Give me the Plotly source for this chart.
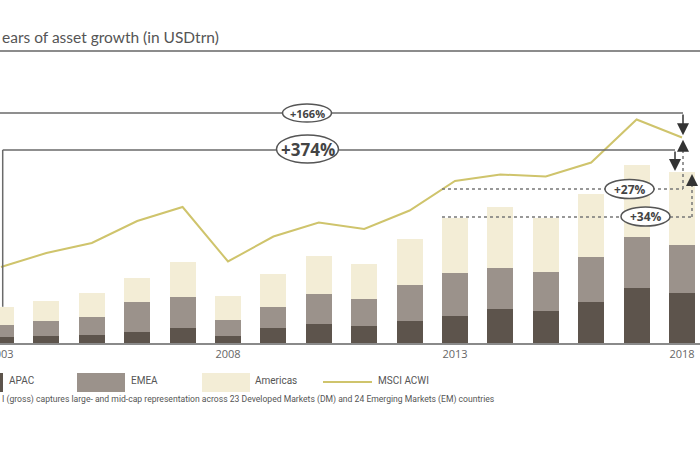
import plotly.graph_objects as go

# ---------------- data ----------------
years = list(range(2003, 2019))
apac = [2.5, 3.1, 3.6, 4.8, 6.7, 3.1, 6.7, 8.4, 7.6, 9.8, 12.1, 15.0, 14.4, 18.4, 24.4, 22.1]
emea = [5.5, 6.7, 8.1, 13.6, 13.6, 7.1, 9.5, 13.2, 11.9, 16.0, 19.0, 18.5, 17.3, 19.7, 22.5, 21.3]
americas = [8.1, 9.0, 10.4, 10.7, 15.7, 10.5, 14.5, 16.9, 15.8, 20.3, 24.4, 27.1, 24.0, 28.1, 32.4, 32.7]
msci = [760, 900, 1000, 1220, 1360, 815, 1065, 1205, 1140, 1325, 1620, 1685, 1665, 1805, 2235, 2055]
tick_years = [2003, 2008, 2013, 2018]
tick_labels = ["2003", "2008", "2013", "2018"]
growth_labels = {"total": "+374%", "msci": "+166%", "msci5": "+27%", "total5": "+34%"}
series_names = ["APAC", "EMEA", "Americas", "MSCI ACWI"]
title_text = "ears of asset growth (in USDtrn)"
footnote_text = ("I (gross) captures large- and mid-cap representation across 23 Developed "
                 "Markets (DM) and 24 Emerging Markets (EM) countries")

# ---------------- styling / geometry ----------------
W, H = 700, 450
TOP, BASE = 90, 343            # plot area top / baseline pixel rows
PLOT_H = BASE - TOP
PX_PER_UNIT = 2.25
Y_MAX = PLOT_H / PX_PER_UNIT
MSCI_K = 10 * PX_PER_UNIT      # msci points per y unit
X0, X1 = 2003 - 1 / 45.4, 2018 + 18 / 45.4
BAR_W = 0.573

C_APAC = "#5d544c"
C_EMEA = "#9b928b"
C_AMER = "#f3edd6"
C_MSCI = "#cfc46c"
C_LINE = "#6a6a6a"
C_TXT = "#555555"
FONT = "Roboto, Liberation Sans, Arial, sans-serif"


def ppx(p):
    return p / W


def ppy(p):
    return (BASE - p) / PLOT_H


def dx(p):
    return X0 + p / W * (X1 - X0)


def dy(p):
    return (BASE - p) / PX_PER_UNIT


totals = [a + e + m for a, e, m in zip(apac, emea, americas)]

fig = go.Figure()
for name, vals, col in [(series_names[0], apac, C_APAC), (series_names[1], emea, C_EMEA),
                        (series_names[2], americas, C_AMER)]:
    fig.add_trace(go.Bar(x=years, y=vals, name=name, marker_color=col,
                         marker_line_width=0, width=BAR_W, showlegend=False))
fig.add_trace(go.Scatter(x=years, y=msci, name=series_names[3], mode="lines",
                         line=dict(color=C_MSCI, width=2), yaxis="y2", showlegend=False))

shapes = []
annos = []


def arrow(x, y_tip, y_from):
    return dict(x=x, y=y_tip, ax=x, ay=y_from, xref="x", yref="y", axref="x", ayref="y",
                text="", showarrow=True, arrowhead=2, arrowsize=1.6, arrowwidth=1.5,
                arrowcolor="#333333")


# title + underline
annos.append(dict(text=title_text, x=ppx(0), y=ppy(37), xref="paper", yref="paper",
                  xanchor="left", yanchor="middle", showarrow=False,
                  font=dict(family="Lato, sans-serif", size=15.5, color=C_TXT)))
shapes.append(dict(type="line", xref="paper", yref="paper", x0=0, x1=1, y0=ppy(51), y1=ppy(51),
                   line=dict(color="#8c8c8c", width=2)))

# +166% bracket (MSCI 2003 -> 2018)
y166 = dy(113)
shapes.append(dict(type="line", xref="x", yref="y", x0=X0, x1=dx(683), y0=y166, y1=y166,
                   line=dict(color=C_LINE, width=1.5)))
annos.append(arrow(dx(683), msci[-1] / MSCI_K + 1.0, y166))
# +374% bracket (total 2003 -> 2018)
y374 = dy(150)
xl = dx(2.7)
shapes.append(dict(type="line", xref="x", yref="y", x0=xl, x1=xl, y0=totals[0], y1=y374,
                   line=dict(color=C_LINE, width=1.5)))
shapes.append(dict(type="line", xref="x", yref="y", x0=xl, x1=dx(675), y0=y374, y1=y374,
                   line=dict(color=C_LINE, width=1.5)))
annos.append(arrow(dx(675), totals[-1] + 0.3, y374))

# +27% dotted (MSCI 2013 -> 2018)
y27 = dy(189)
xs = 2013 - BAR_W / 2
tip27 = msci[-1] / MSCI_K - 1.0
shapes.append(dict(type="line", xref="x", yref="y", x0=xs, x1=dx(683), y0=y27, y1=y27,
                   line=dict(color="#777777", width=1.5, dash="dot")))
shapes.append(dict(type="line", xref="x", yref="y", x0=dx(683), x1=dx(683), y0=y27,
                   y1=tip27 - 4, line=dict(color="#777777", width=1.5, dash="dot")))
annos.append(arrow(dx(683), tip27, tip27 - 5))
# +34% dotted (total 2013 -> 2018)
y34 = totals[10] + 0.5
tip34 = totals[-1] - 1.0
shapes.append(dict(type="line", xref="x", yref="y", x0=xs, x1=dx(692), y0=y34, y1=y34,
                   line=dict(color="#777777", width=1.5, dash="dot")))
shapes.append(dict(type="line", xref="x", yref="y", x0=dx(692), x1=dx(692), y0=y34,
                   y1=tip34 - 4, line=dict(color="#777777", width=1.5, dash="dot")))
annos.append(arrow(dx(692), tip34, tip34 - 5))

# ovals with labels
ovals = [(307, 113, 49, 18, growth_labels["msci"], 11),
         (307.5, 149, 62, 28, growth_labels["total"], 17),
         (629.5, 189, 49, 19, growth_labels["msci5"], 12),
         (645.5, 216.5, 49, 19, growth_labels["total5"], 12)]
for cx, cy, w, h, lab, fs in ovals:
    shapes.append(dict(type="circle", xref="paper", yref="paper",
                       x0=ppx(cx - w / 2), x1=ppx(cx + w / 2), y0=ppy(cy + h / 2), y1=ppy(cy - h / 2),
                       fillcolor="white", line=dict(color="#555555", width=1.5)))
    annos.append(dict(text="<b>" + lab + "</b>", x=ppx(cx), y=ppy(cy), xref="paper", yref="paper",
                      xanchor="center", yanchor="middle", showarrow=False,
                      font=dict(family="Open Sans, sans-serif", size=fs, color="#444444")))

# legend (manual)
LEG_Y = 380
leg_items = [(-45, 3, C_APAC, 7, series_names[0]), (77, 125, C_EMEA, 129, series_names[1]),
             (202, 250, C_AMER, 253, series_names[2])]
for x0, x1, col, tx, lab in leg_items:
    shapes.append(dict(type="rect", xref="paper", yref="paper", x0=ppx(max(x0, 0)), x1=ppx(x1),
                       y0=ppy(392), y1=ppy(373), fillcolor=col, line=dict(width=0)))
    annos.append(dict(text=lab, x=ppx(tx), y=ppy(LEG_Y), xref="paper", yref="paper",
                      xanchor="left", yanchor="middle", showarrow=False,
                      font=dict(family=FONT, size=10, color=C_TXT)))
shapes.append(dict(type="line", xref="paper", yref="paper", x0=ppx(323), x1=ppx(372),
                   y0=ppy(382), y1=ppy(382), line=dict(color=C_MSCI, width=2)))
annos.append(dict(text=series_names[3], x=ppx(376), y=ppy(LEG_Y), xref="paper", yref="paper",
                  xanchor="left", yanchor="middle", showarrow=False,
                  font=dict(family=FONT, size=10, color=C_TXT)))

# footnote
annos.append(dict(text=footnote_text, x=ppx(0), y=ppy(399), xref="paper", yref="paper",
                  xanchor="left", yanchor="middle", showarrow=False,
                  font=dict(family=FONT, size=8.6, color=C_TXT)))

fig.update_layout(
    width=W, height=H,
    margin=dict(l=0, r=0, t=TOP, b=H - BASE, pad=0, autoexpand=False),
    paper_bgcolor="white", plot_bgcolor="white",
    barmode="stack", bargap=0,
    showlegend=False,
    xaxis=dict(range=[X0, X1], tickvals=tick_years, ticktext=tick_labels, showgrid=False,
               zeroline=False, showline=True, linecolor="#8a8a8a", linewidth=1.5,
               ticks="", ticklabeloverflow="allow", automargin=False,
               tickfont=dict(family="Open Sans, sans-serif", size=11, color="#666666")),
    yaxis=dict(range=[0, Y_MAX], visible=False, showgrid=False, zeroline=False,
               automargin=False),
    yaxis2=dict(range=[0, Y_MAX * MSCI_K], overlaying="y", visible=False, showgrid=False,
                zeroline=False, automargin=False),
    shapes=shapes, annotations=annos,
)

fig.write_html("out.html", config={"displayModeBar": False},
               post_script="document.body.style.margin='0';")
